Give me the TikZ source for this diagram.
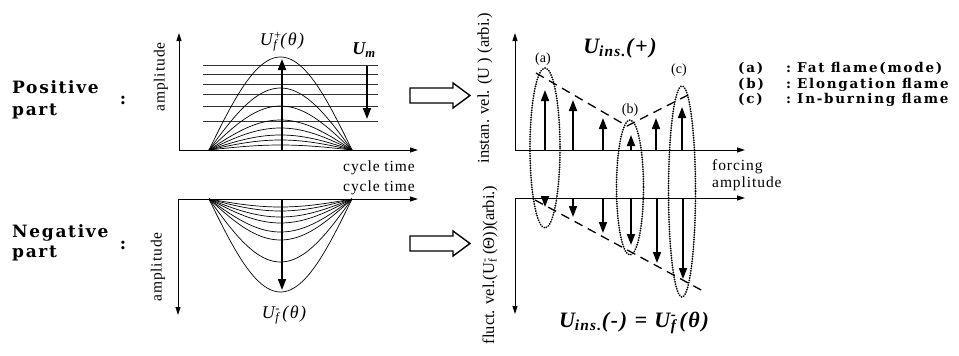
\documentclass[tikz,border=0pt]{standalone}
\usepackage{fontspec}
\setmainfont{Liberation Serif}
\newfontfamily\wideA[LetterSpace=10]{DejaVu Serif}
\newfontfamily\wideB[LetterSpace=6]{Liberation Serif}
\newfontfamily\wideC[LetterSpace=13]{DejaVu Serif}
\newfontfamily\eqfont[LetterSpace=8]{Liberation Serif}
\usetikzlibrary{arrows.meta}
\newcommand\UFsup[1]{U\kern0.5pt\rlap{\textsuperscript{#1}}\textsubscript{f}\kern3pt}
\tikzset{
  axis/.style={line width=0.9pt,-{Triangle[length=8pt,width=5pt]}},
  bigarrow/.style={line width=1.7pt,-{Triangle[length=11pt,width=8pt]}},
  wave/.style={line width=0.7pt},
  hline/.style={line width=0.8pt,black!80},
  hollow/.style={line width=1.4pt,line join=miter},
  ell/.style={line width=2pt,dash pattern=on 0.01pt off 2.4pt,line cap=round},
  dashline/.style={line width=1.3pt,dash pattern=on 9pt off 6pt},
  side/.style={font=\wideA\bfseries\fontsize{17}{19}\selectfont,inner sep=0pt},
  lab/.style={font=\wideB\fontsize{15.5}{17}\selectfont,inner sep=0pt},
  ylab/.style={font=\fontsize{16.5}{18}\selectfont,inner sep=0pt,rotate=90},
  leg/.style={font=\wideC\bfseries\fontsize{13.5}{15}\selectfont,inner sep=0pt,anchor=base west},
  sym/.style={font=\eqfont\itshape\fontsize{18}{20}\selectfont,inner sep=0pt},
  bigsym/.style={font=\eqfont\bfseries\itshape\fontsize{22}{24}\selectfont,inner sep=0pt},
  small/.style={font=\fontsize{14}{16}\selectfont,inner sep=0pt}
}
\begin{document}
\begin{tikzpicture}[x=1pt,y=-1pt]
\useasboundingbox (0,0) rectangle (959,356);

% ---------- left labels ----------
\node[side,anchor=base west] (pos1) at (12,93) {Positive};
\node[side,anchor=base west] (pos2) at (12,115) {part};
\node[side] (posc) at (123,100) {:};
\node[side,anchor=base west] (neg1) at (12,237) {Negative};
\node[side,anchor=base west] (neg2) at (12,257) {part};
\node[side] (negc) at (123,245) {:};

% ---------- top-left plot ----------
\coordinate (o1) at (179,150);
\coordinate (y1) at (179,33);
\coordinate (x1) at (418,150);
\draw[axis] (o1) -- (y1);
\draw[axis] (o1) -- (x1);
\node[lab,rotate=90] (amp1) at (161,77) {amplitude};
\node[lab,anchor=base] (ct1) at (379,171) {cycle time};
\foreach \yy in {65.7,74.3,84.3,94.3,106.7,121}
  \draw[hline] (203,\yy) -- (378,\yy);
\foreach \h in {93,62,44,30,22,15,10,5}
  \draw[wave] plot[domain=0:180,samples=50] ({209+0.7944*\x},{150-\h*sin(\x)});
\coordinate (pk1b) at (282,150);
\coordinate (pk1t) at (282,59);
\draw[bigarrow] (pk1b) -- (pk1t);
\coordinate (um1) at (367,66);
\coordinate (um2) at (367,119);
\draw[bigarrow] (um1) -- (um2);
\node[sym] (ufp) at (282,42) {\UFsup{+}(θ)};
\node[sym,font=\eqfont\bfseries\itshape\fontsize{18}{20}\selectfont] (um) at (364,50) {U\textsubscript{m}};

% ---------- bottom-left plot ----------
\coordinate (o2) at (178,199);
\coordinate (y2) at (178,315);
\coordinate (x2) at (418,199);
\draw[axis] (o2) -- (y2);
\draw[axis] (o2) -- (x2);
\node[lab,rotate=90] (amp2) at (158,267) {amplitude};
\node[lab,anchor=base] (ct2) at (379,191) {cycle time};
\foreach \h in {93,63,41,33,24,18,12,8}
  \draw[wave] plot[domain=0:180,samples=50] ({209+0.7944*\x},{199+\h*sin(\x)});
\coordinate (pk2b) at (282,199);
\coordinate (pk2t) at (282,290);
\draw[bigarrow] (pk2b) -- (pk2t);
\node[sym] (ufm) at (284,315) {\UFsup{-}(θ)};

% ---------- hollow arrows ----------
\draw[hollow] (410,88) -- (453,88) -- (453,83) -- (470,95.5) -- (453,108) -- (453,103) -- (410,103) -- cycle;
\draw[hollow] (410,236) -- (453,236) -- (453,231) -- (470,243.5) -- (453,256) -- (453,251) -- (410,251) -- cycle;

% ---------- top-right plot ----------
\coordinate (o3) at (515,150);
\coordinate (y3) at (515,33);
\coordinate (x3) at (745,150);
\draw[axis] (o3) -- (y3);
\draw[axis] (o3) -- (x3);
\node[ylab] (yl1) at (485,88) {instan. vel. (U ) (arbi.)};
\node[lab,anchor=base west] (fc) at (712,170) {forcing};
\node[lab,anchor=base west] (fa) at (712,187) {amplitude};
\foreach \xx/\tt in {545/90,573/100,603/118,631/135,656/118,682/107}
  \draw[bigarrow] (\xx,150) -- (\xx,\tt);
\draw[dashline] (536,73) -- (627,126) -- (690,94);
\node[bigsym] (uinsp) at (620,48) {U\textsubscript{ins.}(+)};

% ---------- bottom-right plot ----------
\coordinate (o4) at (515,198);
\coordinate (y4) at (515,314);
\coordinate (x4) at (745,198);
\draw[axis] (o4) -- (y4);
\draw[axis] (o4) -- (x4);
\node[ylab] (yl2) at (490,265) {fluct. vel.(\UFsup{-}(Θ))(arbi.)};
\foreach \xx/\tt in {545/207,573/217,603/233,631/245,657/263,683/279}
  \draw[bigarrow] (\xx,198) -- (\xx,\tt);
\draw[dashline] (535,200) -- (703,291);
\node[bigsym] (uinsm) at (634,323) {U\textsubscript{ins.}(-) = \UFsup{-}(θ)};

% ---------- dotted ellipses ----------
\draw[ell] (545,148) ellipse [x radius=15,y radius=80];
\draw[ell] (630,187.5) ellipse [x radius=13.5,y radius=67.5];
\draw[ell] (682,191.5) ellipse [x radius=13.5,y radius=105.5];
\node[small] (la) at (543,59) {(a)};
\node[small] (lb) at (630,110) {(b)};
\node[small] (lc) at (679,70) {(c)};

% ---------- legend ----------
\node[leg] (ga) at (738,72) {(a)};
\node[leg] (gac) at (786,72) {:};
\node[leg] (gat) at (797,72) {Fat flame(mode)};
\node[leg] (gb) at (738,88) {(b)};
\node[leg] (gbc) at (786,88) {:};
\node[leg] (gbt) at (797,88) {Elongation flame};
\node[leg] (gc) at (738,103) {(c)};
\node[leg] (gcc) at (786,103) {:};
\node[leg] (gct) at (797,103) {In-burning flame};
\end{tikzpicture}
\end{document}
